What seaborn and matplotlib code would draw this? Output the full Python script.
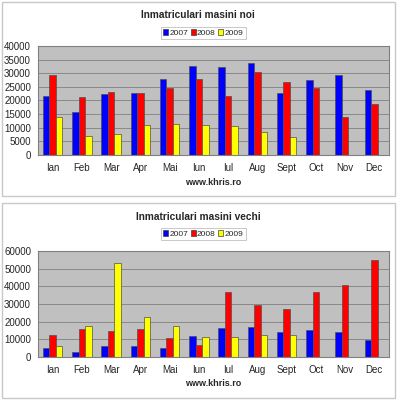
import numpy as np
import pandas as pd
import matplotlib
matplotlib.use("Agg")
import matplotlib.pyplot as plt
from matplotlib.patches import Rectangle, Patch
import seaborn as sns

months = ["Ian", "Feb", "Mar", "Apr", "Mai", "Iun", "Iul", "Aug", "Sept", "Oct", "Nov", "Dec"]
years = ["2007", "2008", "2009"]

noi_2007 = [21800, 15700, 22300, 22750, 28000, 32500, 32200, 33600, 22600, 27400, 29200, 24000]
noi_2008 = [29400, 21300, 23000, 22750, 24700, 28000, 21500, 30400, 26700, 24500, 13800, 18700]
noi_2009 = [13800, 7100, 7800, 10900, 11300, 10900, 10600, 8400, 6600, np.nan, np.nan, np.nan]

vechi_2007 = [5300, 2800, 6100, 6300, 5300, 12000, 16300, 17100, 13900, 15200, 14000, 9700]
vechi_2008 = [12500, 15600, 14600, 15600, 10800, 6600, 36800, 29200, 27200, 36800, 41000, 54900]
vechi_2009 = [6100, 17800, 53200, 22400, 17800, 11600, 11600, 12200, 12700, np.nan, np.nan, np.nan]

colors = ["#0000FF", "#FF0000", "#FFFF00"]


def long_df(s1, s2, s3):
    rows = []
    for yr, vals in zip(years, [s1, s2, s3]):
        for m, v in zip(months, vals):
            rows.append({"Luna": m, "An": yr, "Valoare": v})
    return pd.DataFrame(rows)


sns.set_style("white")
plt.rcParams["font.family"] = ["Liberation Sans", "DejaVu Sans"]

W, H = 397, 400
fig = plt.figure(figsize=(W / 100, H / 100), dpi=100)


def fx(x):
    return x / W


def fy(y):
    return 1 - y / H


# outer chart boxes
for (y0, y1) in [(2, 196), (203, 398)]:
    fig.patches.append(Rectangle((fx(2), fy(y1)), fx(393), (y1 - y0) / H,
                                 transform=fig.transFigure, fill=False,
                                 edgecolor="#c8c8c8", linewidth=1.0))


def draw(df, top, bottom, ymax, step, title, title_y, leg_y, url_y):
    ax = fig.add_axes([fx(38), fy(bottom), fx(351), (bottom - top) / H])
    ax.set_facecolor("#C0C0C0")
    sns.barplot(data=df, x="Luna", y="Valoare", hue="An", palette=colors,
                order=months, hue_order=years, width=0.667, ax=ax, saturation=1,
                edgecolor="#505050", linewidth=0.5, errorbar=None, legend=False)
    ax.set_xlim(-0.5, 11.5)
    ax.set_ylim(0, ymax)
    ax.set_yticks(np.arange(0, ymax + 1, step))
    ax.set_yticklabels([str(int(v)) for v in np.arange(0, ymax + 1, step)])
    ax.set_xticks(range(12))
    ax.set_xticks(np.arange(-0.5, 12, 1), minor=True)
    ax.tick_params(axis="x", which="major", length=0, labelsize=7, pad=6)
    ax.tick_params(axis="x", which="minor", length=3, width=0.6, color="#808080", direction="out")
    ax.tick_params(axis="y", length=3, width=0.6, color="#808080", labelsize=7, pad=2, direction="out")
    ax.set_xlabel("")
    ax.set_ylabel("")
    ax.yaxis.grid(True, color="#808080", linewidth=0.6)
    ax.set_axisbelow(True)
    for s in ax.spines.values():
        s.set_color("#808080")
        s.set_linewidth(0.8)
    fig.text(fx(198), fy(title_y), title, ha="center", va="center",
             fontsize=7.3, fontweight="bold")
    handles = [Patch(facecolor=c, edgecolor="#404040", linewidth=0.5, label=y)
               for c, y in zip(colors, years)]
    leg = fig.legend(handles=handles, loc="center", bbox_to_anchor=(fx(203), fy(leg_y)),
                     ncol=3, fontsize=6, frameon=True, fancybox=False,
                     handlelength=0.6, handleheight=0.6, handletextpad=0.15,
                     columnspacing=0.3, borderpad=0.3, borderaxespad=0)
    leg.get_frame().set_edgecolor("#b0b0b0")
    leg.get_frame().set_linewidth(0.6)
    fig.text(fx(213), fy(url_y), "www.khris.ro", ha="center", va="center",
             fontsize=6.5, fontweight="bold")
    return ax


draw(long_df(noi_2007, noi_2008, noi_2009), 46, 155, 40000, 5000,
     "Inmatriculari masini noi", 15, 33, 182)
draw(long_df(vechi_2007, vechi_2008, vechi_2009), 251, 357, 60000, 10000,
     "Inmatriculari masini vechi", 217, 234, 383)

fig.savefig("out.png", dpi=100)
